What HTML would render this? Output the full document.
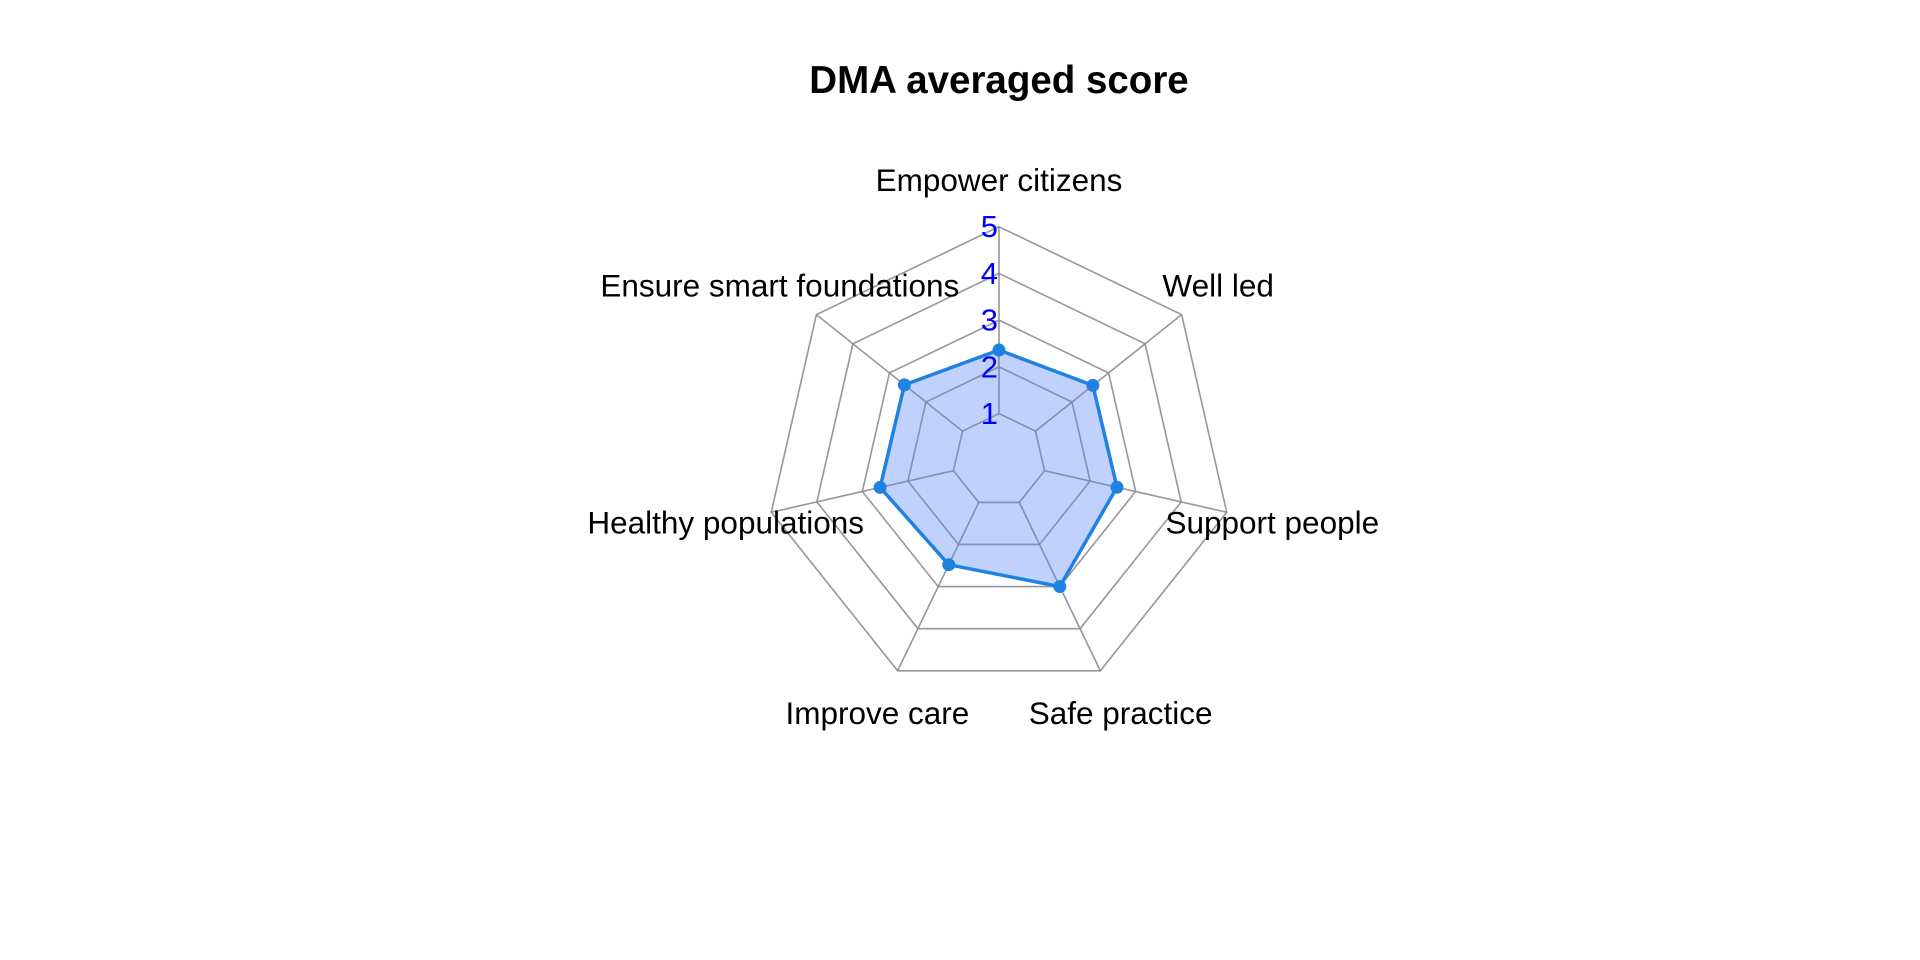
<!DOCTYPE html>
<html><head><meta charset="utf-8"><style>
html,body{margin:0;padding:0;background:#fff;}
svg{display:block;font-family:"Liberation Sans",Arial,sans-serif;}
</style></head><body>
<svg id="chart" width="1920" height="960">
<text x="999" y="93" text-anchor="middle" font-size="38.5" font-weight="bold">DMA averaged score</text>
<g id="grid"></g><g id="series"></g><g id="labels"></g>
</svg>
<script>
const categories = ["Empower citizens","Well led","Support people","Safe practice","Improve care","Healthy populations","Ensure smart foundations"];
const values = [2.36, 2.57, 2.59, 3.0, 2.48, 2.61, 2.59];
const tickLabels = ["1","2","3","4","5"];
const maxVal = 5;
const cx = 999, cy = 460.3, R = 233.6;
const NS = "http://www.w3.org/2000/svg";
function ang(i){return 2*Math.PI*i/categories.length;}
function pt(i,v){const r=R*v/maxVal;return [cx+r*Math.sin(ang(i)), cy-r*Math.cos(ang(i))];}
function mk(tag,attrs,parent){const e=document.createElementNS(NS,tag);for(const k in attrs)e.setAttribute(k,attrs[k]);parent.appendChild(e);return e;}
const grid=document.getElementById('grid');
tickLabels.forEach((t,li)=>{
  const lv=+t;
  const p=mk('polygon',{points:categories.map((c,i)=>pt(i,lv).join(',')).join(' '),fill:'none',stroke:'#b4b4b4','stroke-width':1.6},grid);
  
  
});
categories.forEach((c,i)=>{
  const a=pt(i,1),b=pt(i,maxVal);
  const l=mk('line',{x1:a[0],y1:a[1],x2:b[0],y2:b[1],stroke:'#b4b4b4','stroke-width':1.6},grid);
  
  
});
const ser=document.getElementById('series');
const poly=mk('polygon',{points:values.map((v,i)=>pt(i,v).join(',')).join(' '),fill:'rgba(100,140,250,0.4)',stroke:'none'},ser);


const over=mk('g',{},ser);
tickLabels.forEach(t=>{
  const p=mk('polygon',{points:categories.map((c,i)=>pt(i,+t).join(',')).join(' '),fill:'none',stroke:'rgba(120,120,140,0.45)','stroke-width':1.6},over);
  
  
});
categories.forEach((c,i)=>{
  const a=pt(i,1),b=pt(i,maxVal);
  const l=mk('line',{x1:a[0],y1:a[1],x2:b[0],y2:b[1],stroke:'rgba(120,120,140,0.45)','stroke-width':1.6},over);
  
  
});
const outline=mk('polygon',{points:values.map((v,i)=>pt(i,v).join(',')).join(' '),fill:'none',stroke:'#1f82e3','stroke-width':3.5,'stroke-linejoin':'round'},ser);


values.forEach((v,i)=>{
  const p=pt(i,v);
  const c=mk('circle',{cx:p[0],cy:p[1],r:6.5,fill:'#1f82e3'},ser);
  
  
});
const lab=document.getElementById('labels');
tickLabels.forEach(t=>{
  const p=pt(0,+t);
  const e=mk('text',{x:p[0]-1,y:p[1],'text-anchor':'end','dominant-baseline':'central','font-size':31,fill:'#0000ff'},lab);
  e.textContent=t;
  
  
});
categories.forEach((c,i)=>{
  const r=R*1.2;
  const x=cx+r*Math.sin(ang(i)), y=cy-r*Math.cos(ang(i));
  const e=mk('text',{x:x,y:y,'text-anchor':'middle','dominant-baseline':'central','font-size':31.5,fill:'#000'},lab);
  e.textContent=c;
  
  
});
</script>
</body></html>
